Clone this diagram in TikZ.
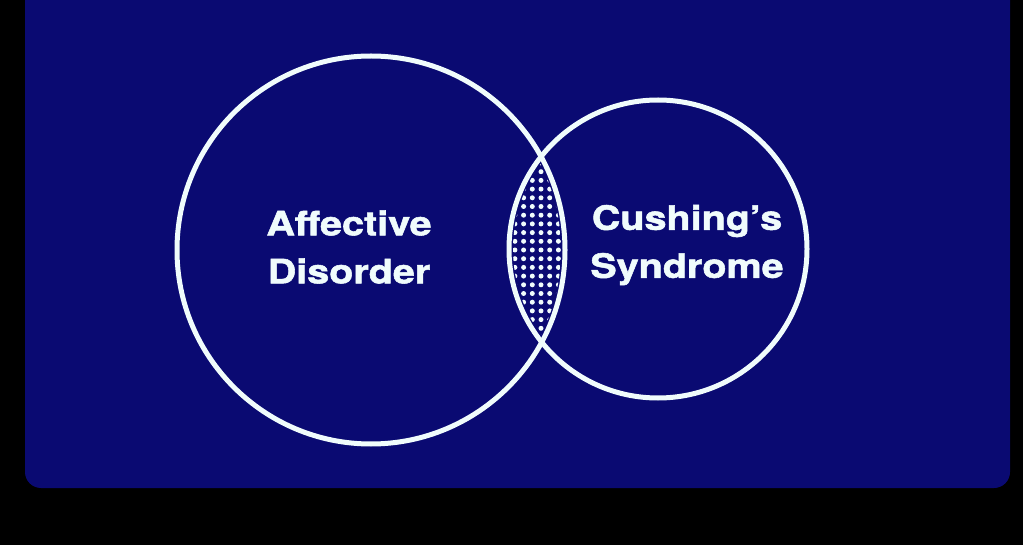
\documentclass[tikz,border=0pt]{standalone}
\usepackage{fontspec}
\usepackage{xcolor}
\usepackage{tikz}
\usetikzlibrary{calc}
\newfontfamily\slidefont[FakeStretch=1.18,FakeBold=1.6]{TeX Gyre Heros}
\definecolor{slideblue}{RGB}{10,10,114}
\definecolor{slidewhite}{RGB}{240,252,252}

\begin{document}
\begin{tikzpicture}[
  x=1pt, y=-1pt,
  venn/.style     = {circle, draw=slidewhite, line width=5pt, inner sep=0pt},
  venntext/.style = {text=slidewhite, align=center,
                     font=\slidefont\bfseries\fontsize{33.5}{48}\selectfont},
  dot/.style      = {fill=slidewhite}
]
\fill[black] (0,0) rectangle (1023,545);
\useasboundingbox (0,0) rectangle (1023,545);
\fill[slideblue, rounded corners=16pt] (25,-30) rectangle (1010,488);

\node[venn, minimum size=388pt] (affective) at (371,250) {};
\node[venn, minimum size=298pt] (cushing) at (658,249) {};

\begin{scope}
  \clip (affective.center) circle (190);
  \clip (cushing.center) circle (145);
  \foreach \i in {-4,...,4}
    \foreach \j in {-10,...,10}
      \fill[dot] ($(541,250)+(8.7*\i,8.7*\j)$) circle (2.5);
\end{scope}

\node[venntext] (affectivetext) at (349,247) {Affective\\Disorder};
\node[venntext] (cushingtext) at (687,245) {Cushing’s\\Syndrome};
\end{tikzpicture}
\end{document}
